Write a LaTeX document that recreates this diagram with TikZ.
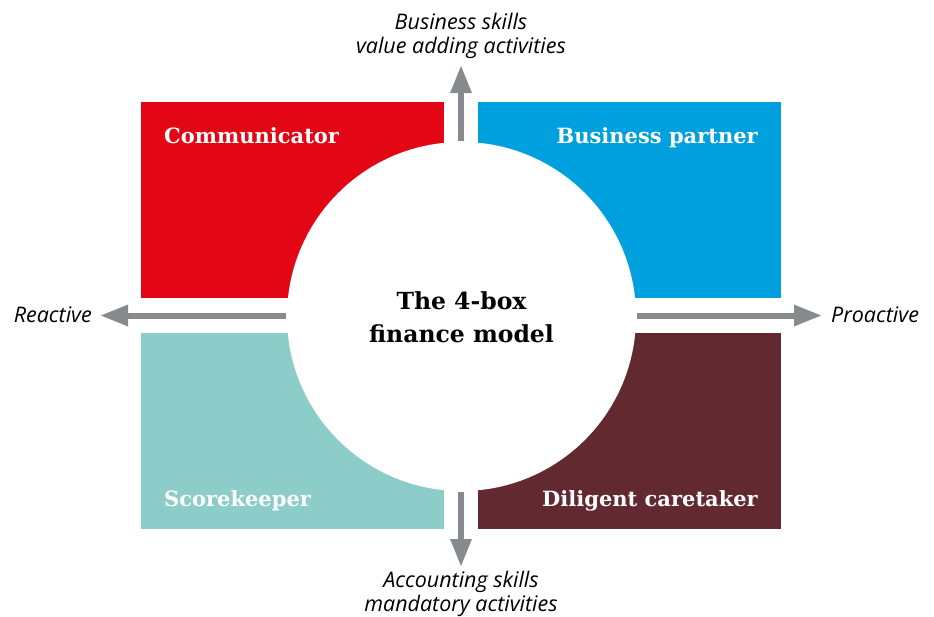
\documentclass[tikz,border=0pt]{standalone}
\usepackage{fontspec}
\setmainfont{DejaVu Serif}
\newfontfamily\axisfont{Open Sans}
\usetikzlibrary{arrows.meta}
\definecolor{cred}{HTML}{E30716}
\definecolor{cblue}{HTML}{00A0DF}
\definecolor{cteal}{HTML}{8CCDCA}
\definecolor{cmaroon}{HTML}{632931}
\definecolor{cgray}{HTML}{878B8E}
\tikzset{
  quad/.style={fill=#1, draw=none, minimum width=303pt, minimum height=196pt, inner sep=0pt, outer sep=0pt},
  boxlabel/.style={text=white, font=\fontsize{21}{26}\selectfont\bfseries, inner sep=0pt},
  axislabel/.style={font=\axisfont\itshape\fontsize{21.5}{24}\selectfont, text=black, inner sep=0pt, align=center},
  axisarrow/.style={draw=cgray, line width=6pt, -{Triangle[length=28pt,width=20pt]}},
}
\begin{document}
\begin{tikzpicture}[x=1pt,y=-1pt]
\useasboundingbox (0,0) rectangle (934,616);
\node[quad=cred, anchor=north west] (red) at (141,102) {};
\node[quad=cblue, anchor=north west] (blue) at (478,102) {};
\node[quad=cteal, anchor=north west] (teal) at (141,333) {};
\node[quad=cmaroon, anchor=north west] (maroon) at (478,333) {};
\node[circle, fill=white, minimum size=349pt, inner sep=0pt, outer sep=0pt] (circ) at (461.5,316.5) {};
\node[boxlabel, anchor=base west] (l1) at (164,143) {Communicator};
\node[boxlabel, anchor=base east] (l2) at (758,143) {Business partner};
\node[boxlabel, anchor=base west] (l3) at (164,506) {Scorekeeper};
\node[boxlabel, anchor=base east] (l4) at (758,506) {Diligent caretaker};
\node[font=\fontsize{23.5}{33}\selectfont\bfseries, align=center, inner sep=0pt, anchor=base] (title) at (461.5,342) {The 4-box\\finance model};
\coordinate (ttip) at (461,65);
\coordinate (btip) at (461,567);
\coordinate (ltip) at (100,315.5);
\coordinate (rtip) at (822,315.5);
\draw[axisarrow] (461,141) -- (ttip);
\draw[axisarrow] (461,492) -- (btip);
\draw[axisarrow] (286,315.5) -- (ltip);
\draw[axisarrow] (637,315.5) -- (rtip);
\node[axislabel, anchor=base] (top) at (461,53) {Business skills\\value adding activities};
\node[axislabel, anchor=base] (bot) at (461,611) {Accounting skills\\mandatory activities};
\node[axislabel, anchor=base east] (left) at (92,322) {Reactive};
\node[axislabel, anchor=base west] (right) at (831,322) {Proactive};
\end{tikzpicture}
\end{document}
